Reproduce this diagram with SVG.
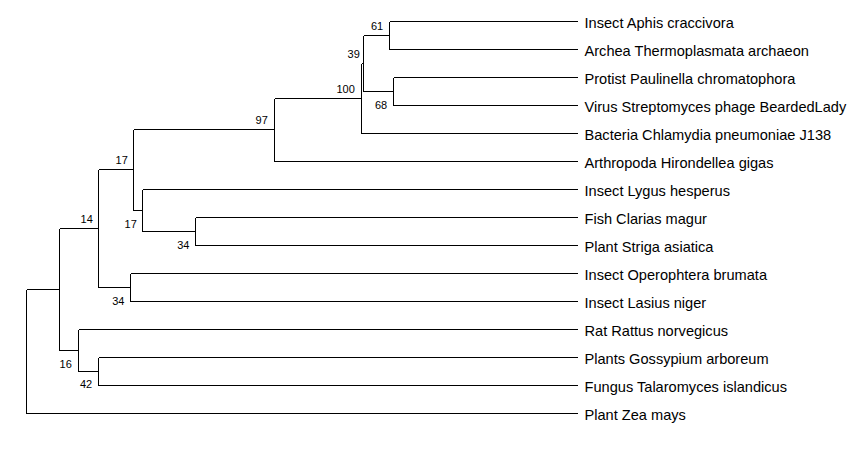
<svg xmlns="http://www.w3.org/2000/svg" width="861" height="452" viewBox="0 0 861 452">
<style>
.e{fill:none;stroke:#000;stroke-width:1;shape-rendering:crispEdges}
.leaf{font-family:"Liberation Sans",Arial,sans-serif;font-size:14.6px;fill:#000}
.bs{font-family:"Liberation Sans",Arial,sans-serif;font-size:11px;fill:#000;text-anchor:end}
</style>
<rect width="861" height="452" fill="#fff"/>
<g id="connectors" class="e">
<path d="M26.5 289.5V413.5M26.5 289.5H59.5M26.5 413.5H578"/>
<path d="M59.5 228.5V350.5M59.5 228.5H98.5M59.5 350.5H78.5"/>
<path d="M98.5 169.5V287.5M98.5 169.5H133.5M98.5 287.5H130.5"/>
<path d="M133.5 129.5V210.5M133.5 129.5H274.5M133.5 210.5H142.5"/>
<path d="M274.5 98.5V161.5M274.5 98.5H361.5M274.5 161.5H578"/>
<path d="M361.5 63.5V133.5M361.5 63.5H363.5M361.5 133.5H578"/>
<path d="M363.5 35.5V91.5M363.5 35.5H389.5M363.5 91.5H393.5"/>
<path d="M389.5 21.5V49.5M389.5 21.5H578M389.5 49.5H578"/>
<path d="M393.5 77.5V105.5M393.5 77.5H578M393.5 105.5H578"/>
<path d="M142.5 189.5V231.5M142.5 189.5H578M142.5 231.5H195.5"/>
<path d="M195.5 217.5V245.5M195.5 217.5H578M195.5 245.5H578"/>
<path d="M130.5 273.5V301.5M130.5 273.5H578M130.5 301.5H578"/>
<path d="M78.5 329.5V371.5M78.5 329.5H578M78.5 371.5H98.5"/>
<path d="M98.5 357.5V385.5M98.5 357.5H578M98.5 385.5H578"/>
</g>
<g id="n61"><text class="bs" x="383.2" y="29.5">61</text></g>
<g id="n39"><text class="bs" x="359.8" y="57.5">39</text></g>
<g id="n100"><text class="bs" x="354.8" y="92.5">100</text></g>
<g id="n68"><text class="bs" x="387.2" y="108.5">68</text></g>
<g id="n97"><text class="bs" x="267.8" y="123.5">97</text></g>
<g id="n17a"><text class="bs" x="127.8" y="163.5">17</text></g>
<g id="n14"><text class="bs" x="92.8" y="222.5">14</text></g>
<g id="n17b"><text class="bs" x="136.8" y="227.5">17</text></g>
<g id="n34a"><text class="bs" x="189.5" y="248.5">34</text></g>
<g id="n34b"><text class="bs" x="124.5" y="304.5">34</text></g>
<g id="n16"><text class="bs" x="71.8" y="367.5">16</text></g>
<g id="n42"><text class="bs" x="92.2" y="388.2">42</text></g>
<g id="leaf1"><text class="leaf" x="584.5" y="27.5">Insect Aphis craccivora</text></g>
<g id="leaf2"><text class="leaf" x="584.5" y="55.5">Archea Thermoplasmata archaeon</text></g>
<g id="leaf3"><text class="leaf" x="584.5" y="83.5">Protist Paulinella chromatophora</text></g>
<g id="leaf4"><text class="leaf" x="584.5" y="111.5">Virus Streptomyces phage BeardedLady</text></g>
<g id="leaf5"><text class="leaf" x="584.5" y="139.5">Bacteria Chlamydia pneumoniae J138</text></g>
<g id="leaf6"><text class="leaf" x="584.5" y="167.5">Arthropoda Hirondellea gigas</text></g>
<g id="leaf7"><text class="leaf" x="584.5" y="195.5">Insect Lygus hesperus</text></g>
<g id="leaf8"><text class="leaf" x="584.5" y="223.5">Fish Clarias magur</text></g>
<g id="leaf9"><text class="leaf" x="584.5" y="251.5">Plant Striga asiatica</text></g>
<g id="leaf10"><text class="leaf" x="584.5" y="279.5">Insect Operophtera brumata</text></g>
<g id="leaf11"><text class="leaf" x="584.5" y="307.5">Insect Lasius niger</text></g>
<g id="leaf12"><text class="leaf" x="584.5" y="335.5">Rat Rattus norvegicus</text></g>
<g id="leaf13"><text class="leaf" x="584.5" y="363.5">Plants Gossypium arboreum</text></g>
<g id="leaf14"><text class="leaf" x="584.5" y="391.5">Fungus Talaromyces islandicus</text></g>
<g id="leaf15"><text class="leaf" x="584.5" y="419.5">Plant Zea mays</text></g>
</svg>
